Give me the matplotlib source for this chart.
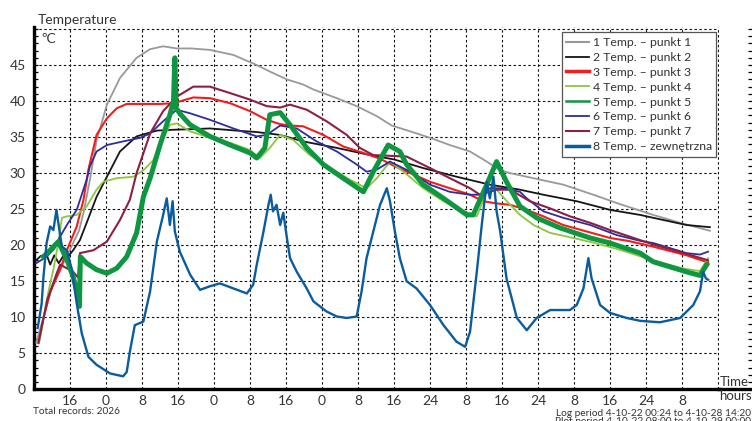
import matplotlib
matplotlib.use("Agg")
import matplotlib.pyplot as plt
from matplotlib.lines import Line2D
import numpy as np

plt.rcParams['font.family'] = ['Lato', 'DejaVu Sans']

# ---------------- data (hours since 4-10-22 08:00, temperature in degC) ----------------
h1 = [0.5, 2, 4, 6, 8, 10, 11.0, 12.4, 13.9, 16.2, 19.1, 22.8, 25.8, 28.7, 31.7, 35, 39.1, 44.3, 49.5,
      52.4, 56.2, 59.8, 62.1, 67.3, 71.7, 76.2, 79.5, 83.6, 88, 92.4, 96.9, 100.6, 103.6, 105.8, 108,
      112.4, 117.6, 124.3, 130.2, 137.6, 143.6, 150.2]
t1 = [6.5, 9.8, 14.2, 16.8, 19.4, 22.0, 24.5, 29.0, 34.5, 39.5, 43.2, 46.0, 47.2, 47.6, 47.3, 47.3, 47.1,
      46.4, 45.0, 44.1, 43.0, 42.3, 41.6, 40.4, 39.3, 37.9, 36.6, 35.8, 34.9, 33.9, 33.0, 31.6, 30.4, 30.0,
      29.7, 29.1, 28.4, 27.0, 25.7, 24.2, 23.1, 22.0]

h2 = [0.3, 1.5, 2.8, 3.6, 4.5, 5.5, 6.5, 7.3, 8.7, 10.2, 11.7, 13.9, 16.2, 19.1, 22.8, 27.3, 30.2, 35,
      39.1, 45, 49.5, 54.7, 59.8, 67.3, 74.7, 80, 86.5, 93.9, 101.3, 108, 113.2, 120.6, 128, 134.7,
      137.6, 145, 150.2]
t2 = [17.8, 18.5, 18.7, 17.3, 18.6, 17.5, 18.5, 18.2, 19.3, 20.7, 23.1, 26.7, 29.5, 33.0, 35.1, 35.9,
      36.0, 36.1, 36.2, 35.9, 35.7, 35.3, 34.4, 33.5, 32.5, 31.9, 30.7, 29.5, 28.4, 27.7, 27.0, 26.1,
      24.9, 24.2, 23.8, 22.8, 22.5]

h3 = [1.0, 2.1, 3.6, 5.0, 5.8, 7.3, 9.5, 11, 12.1, 13.9, 16.2, 18.4, 20.6, 25.8, 28, 31, 35.4, 39.1,
      43.6, 48, 51.7, 54.7, 56.9, 59.8, 64.3, 68.7, 73.2, 76.9, 80, 83.6, 88, 92.4, 96.9, 99.8, 102.8,
      105.8, 109.5, 113.2, 117.6, 122.8, 128, 132, 137.6, 145, 149.8]
t3 = [6.4, 9.9, 13.5, 15.5, 16.6, 19.3, 22.6, 26.3, 30.5, 35.3, 37.6, 39.0, 39.6, 39.6, 39.6, 39.7,
      40.5, 40.4, 39.7, 38.6, 37.4, 36.8, 36.6, 36.5, 35.3, 33.7, 32.8, 32.0, 31.0, 30.0, 28.8, 27.9,
      27.0, 26.1, 25.8, 25.6, 24.9, 24.0, 22.8, 21.9, 21.0, 20.6, 19.8, 18.6, 17.6]

h4 = [1.3, 2.8, 4.3, 5.4, 6.2, 7.3, 9.5, 11.7, 13.9, 15.4, 18.4, 22.1, 24.3, 26.5, 28, 30.2, 31.7,
      34.7, 39.1, 43.6, 48, 50.2, 52.4, 54.7, 57.6, 61.3, 65.8, 70.2, 73.9, 76.2, 79.1, 82.1, 86.5,
      91, 95.4, 98.4, 100.6, 102.8, 105.8, 108, 111, 114.7, 118.4, 124, 130, 137, 144, 148, 149.8]
t4 = [6.8, 12.4, 16.6, 20.3, 23.8, 24.0, 24.2, 25.4, 27.7, 28.8, 29.3, 29.5, 30.4, 31.8, 33.9, 36.7,
      36.9, 35.8, 34.9, 34.2, 33.2, 32.1, 33.5, 35.3, 34.6, 32.5, 30.7, 29.1, 27.9, 29.3, 31.6, 30.2,
      27.9, 26.1, 24.7, 24.0, 27.4, 27.7, 25.6, 24.2, 22.8, 21.7, 21.2, 20.4, 19.4, 18.0, 16.8, 16.4,
      18.2]

h5 = [2.1, 3.6, 5.4, 7.3, 8.7, 10.0, 10.1, 10.3, 11.7, 13.9, 16.2, 18.4, 20.6, 22.8, 24.3, 25.8, 28,
      30.2, 31.0, 31.3, 31.6, 32.5, 34.7, 39.1, 43.6, 48, 49.5, 51.3, 52.4, 54.7, 56.9, 60.6, 64.3,
      68.7, 73.2, 75.4, 78.7, 81.3, 82.8, 86.5, 91, 96.2, 97.6, 100.6, 102.8, 105, 108, 111.7, 116.9,
      123.6, 128, 134.7, 137.6, 145, 148, 149.5]
t5 = [18.4, 19.3, 20.5, 18.0, 15.6, 12.5, 11.5, 18.4, 17.5, 16.6, 16.1, 16.8, 18.4, 21.7, 26.7, 29.3,
      33.9, 38.1, 40.0, 46.0, 39.0, 38.2, 36.7, 35.1, 33.9, 32.8, 32.1, 33.5, 38.1, 38.4, 36.7, 33.5,
      31.2, 29.3, 27.4, 30.2, 33.9, 33.0, 31.2, 28.4, 26.5, 24.2, 24.2, 28.4, 31.6, 28.8, 25.4, 23.8,
      22.4, 21.0, 20.3, 18.9, 17.7, 16.3, 15.8, 17.3]

h6 = [0.5, 2.8, 4.5, 5.8, 7.5, 9.5, 11.7, 12.4, 13.9, 16.2, 19.8, 23.6, 25.8, 28.7, 31.7, 34.7, 39.1,
      44.3, 49.5, 51.7, 54.7, 58.4, 62.8, 67.3, 71.7, 73.9, 76.2, 79.1, 83.6, 88, 92.4, 96.9, 99.1,
      101.3, 104.3, 108, 109.5, 113.2, 117.6, 123.6, 129.5, 134.7, 137.6, 145, 148, 149.8]
t6 = [17.5, 18.4, 19.5, 21.2, 23.0, 24.9, 29.1, 30.9, 33.0, 33.9, 34.4, 34.9, 35.5, 37.2, 38.8, 38.3,
      37.4, 36.2, 35.1, 35.3, 36.6, 36.2, 34.4, 33.0, 31.2, 30.2, 30.5, 31.6, 30.2, 28.4, 27.4, 27.0,
      27.0, 27.9, 27.9, 27.4, 26.5, 24.7, 23.8, 22.8, 21.4, 20.6, 20.3, 18.9, 18.7, 19.1]

h7 = [1.0, 3.0, 5.0, 5.8, 7.3, 8.7, 9.8, 10.2, 13.2, 16.2, 19.1, 21.3, 22.8, 25.8, 28.7, 31.7, 35.4,
      39.1, 43.6, 48, 51.7, 54.7, 56.9, 60.6, 65, 69.5, 72.4, 75.4, 79.1, 82.8, 88, 92.4, 96.9, 99.1,
      102.8, 105.8, 110.2, 114.7, 119.1, 123.6, 128, 134.7, 137.6, 145, 149.8]
t7 = [6.5, 12.5, 16.0, 17.3, 16.8, 16.3, 15.5, 18.9, 19.3, 20.5, 23.5, 26.3, 30.0, 35.5, 38.6, 40.6,
      42.0, 42.0, 41.1, 40.2, 39.3, 39.1, 39.5, 38.8, 37.2, 35.3, 33.5, 32.5, 32.4, 32.3, 30.7, 29.3,
      27.9, 27.0, 27.7, 27.7, 26.1, 25.1, 24.0, 23.1, 22.1, 20.7, 20.1, 18.8, 17.9]

h8 = [0.8, 1.0, 1.7, 2.1, 2.8, 3.6, 4.3, 5.0, 5.4, 6.2, 7.3, 8.4, 9.5, 10.6, 12.1, 13.9, 16.9, 19.8,
      20.6, 21.3, 22.4, 24.3, 25.8, 27.3, 28.7, 29.5, 30.2, 30.8, 31.3, 32.4, 34.7, 36.9, 39.1, 41.3,
      44.3, 47.3, 48.7, 49.5, 51, 52.1, 52.6, 53.1, 53.9, 54.7, 55.4, 56.2, 56.9, 58.4, 60.6, 62.1, 65,
      67.3, 69.5, 71.7, 72.8, 73.9, 75.4, 76.9, 78.4, 79.1, 80.2, 81.3, 82.8, 85, 88, 91, 93.9, 95.8,
      96.9, 98.4, 99.5, 100.6, 101.3, 102.1, 102.8, 103.6, 105, 107.3, 109.5, 111.7, 114.7, 119.1,
      120.6, 122.1, 123.2, 123.9, 125.8, 128, 131.7, 134.7, 139.1, 143.6, 146.5, 148, 148.7, 149.3,
      149.8]
t8 = [8.5, 9.2, 11.9, 15.6, 20.3, 22.6, 22.1, 24.9, 23.1, 19.8, 19.3, 16.6, 11.9, 7.8, 4.5, 3.4, 2.2,
      1.8, 2.4, 5.2, 8.9, 9.4, 13.6, 20.5, 24.2, 26.5, 22.8, 26.1, 21.9, 19.1, 15.9, 13.8, 14.3, 14.7,
      14.0, 13.3, 14.5, 17.3, 21.9, 25.6, 27.0, 24.7, 25.6, 22.8, 24.5, 21.0, 18.2, 16.3, 14.0, 12.2,
      10.8, 10.1, 9.9, 10.1, 13.6, 18.2, 21.9, 25.6, 27.9, 26.1, 21.9, 18.2, 15.0, 14.0, 11.7, 8.9, 6.6,
      5.9, 8.0, 16.3, 22.8, 28.8, 26.5, 29.5, 24.7, 21.9, 15.4, 9.9, 8.2, 9.9, 11.0, 11.0, 11.7, 14.0,
      18.2, 15.4, 11.7, 10.6, 9.9, 9.5, 9.3, 9.9, 11.7, 13.6, 16.3, 15.4, 15.2]

labels = ["1 Temp. \u2013 punkt 1", "2 Temp. \u2013 punkt 2", "3 Temp. \u2013 punkt 3",
          "4 Temp. \u2013 punkt 4", "5 Temp. \u2013 punkt 5", "6 Temp. \u2013 punkt 6",
          "7 Temp. \u2013 punkt 7", "8 Temp. \u2013 zewn\u0119trzna"]
colors = ["#999999", "#151515", "#f21d1d", "#8dc63f", "#0e9640", "#2d2d9c", "#8c1f45", "#0b5c9e"]
xtick_labels = ["16", "0", "8", "16", "0", "8", "16", "0", "8",
                "16", "24", "8", "16", "24", "8", "16", "24", "8", ""]
ytick_labels = ["0", "5", "10", "15", "20", "25", "30", "35", "40", "45", ""]

# ---------------- figure ----------------
W, H = 752, 421
fig = plt.figure(figsize=(W / 100, H / 100), dpi=100)
XMAX = 152.3
YMAX = 50.3
ax_left = 34 / W
ax_w = (684 + 0.3 * 4.5) / W
ax_bot = (H - 389.3) / H
ax_h = (389.3 - 29 + 0.3 * 7.2) / H
ax = fig.add_axes([ax_left, ax_bot, ax_w, ax_h])

series = [(h1, t1), (h2, t2), (h3, t3), (h4, t4), (h5, t5), (h6, t6), (h7, t7), (h8, t8)]
widths = [1.3, 1.3, 1.5, 1.3, 3.6, 1.3, 1.5, 1.7]
order = [0, 1, 2, 3, 5, 6, 4, 7]
for k, i in enumerate(order):
    hx, ty = series[i]
    ax.plot(hx, ty, color=colors[i], lw=widths[i], solid_joinstyle='round', zorder=3 + k)

ax.set_xlim(0, XMAX)
ax.set_ylim(0, YMAX)
ax.set_xticks(np.arange(8, 153, 8))
ax.set_xticklabels(xtick_labels)
ax.set_yticks(np.arange(0, 51, 5))
ax.set_yticklabels(ytick_labels)
ax.set_yticks(np.arange(0, 51, 1), minor=True)
ax.grid(True, which='major', color='#111111', linestyle=(0, (2.2, 2.2)), linewidth=0.8)
ax.set_axisbelow(True)
for s in ['top', 'right']:
    ax.spines[s].set_visible(False)
ax.spines['left'].set_linewidth(2.4)
ax.spines['bottom'].set_linewidth(2.4)
ax.tick_params(axis='x', length=0, pad=4, labelsize=10, labelcolor='#333333')
ax.tick_params(axis='y', which='both', direction='in', length=3.2, width=0.9, pad=6,
               labelsize=10, labelcolor='#333333')

# right strip with bottom axis continuation and right-side tick marks
ax_r = fig.add_axes([(34 + 684) / W, ax_bot, (W - 718) / W, ax_h])
ax_r.set_ylim(0, YMAX)
ax_r.set_xlim(0, 1)
ax_r.patch.set_visible(False)
for s in ['top', 'left', 'right']:
    ax_r.spines[s].set_visible(False)
ax_r.spines['bottom'].set_linewidth(2.4)
ax_r.set_xticks([])
ax_r.yaxis.tick_right()
ax_r.set_yticks(np.arange(0, 51, 1))
ax_r.tick_params(axis='y', direction='in', length=3.2, width=0.9, labelright=False)

# legend
handles = [Line2D([], [], color=colors[i], lw=w) for i, w in
           enumerate([1.5, 1.3, 2.5, 1.3, 1.8, 1.3, 1.5, 2.5])]
leg = ax.legend(handles, labels, loc='upper left',
                bbox_to_anchor=(561.7 / W, 1 - 32.3 / H), bbox_transform=fig.transFigure,
                borderaxespad=0, fontsize=8.8, labelspacing=0.32, handlelength=1.85,
                handletextpad=0.3, borderpad=0.38, fancybox=False, framealpha=1,
                edgecolor='#555555')
leg.get_frame().set_linewidth(0.9)
for t in leg.get_texts():
    t.set_color('#333333')

# texts
fig.text(37.5 / W, 1 - 24 / H, "Temperature", fontsize=10, color='#333333', va='baseline')
fig.text(41.5 / W, 1 - 43 / H, "\u00baC", fontsize=10, color='#333333', va='baseline')
fig.text(33 / W, 1 - 413.5 / H, "Total records: 2026", fontsize=7.3, color='#333333', va='baseline')
fig.text(556.5 / W, 1 - 415.5 / H, "Log period 4-10-22 00:24 to 4-10-28 14:20", fontsize=7.3,
         color='#333333', va='baseline')
fig.text(555 / W, 1 - 424 / H, "Plot period 4-10-22 08:00 to 4-10-29 00:00", fontsize=7.3,
         color='#333333', va='baseline')
fig.text(720 / W, 1 - 386 / H, "Time", fontsize=9.5, color='#333333', va='baseline')
fig.text(719 / W, 1 - 400 / H, "hours", fontsize=9.5, color='#333333', va='baseline')

fig.savefig("out.png", dpi=100)
